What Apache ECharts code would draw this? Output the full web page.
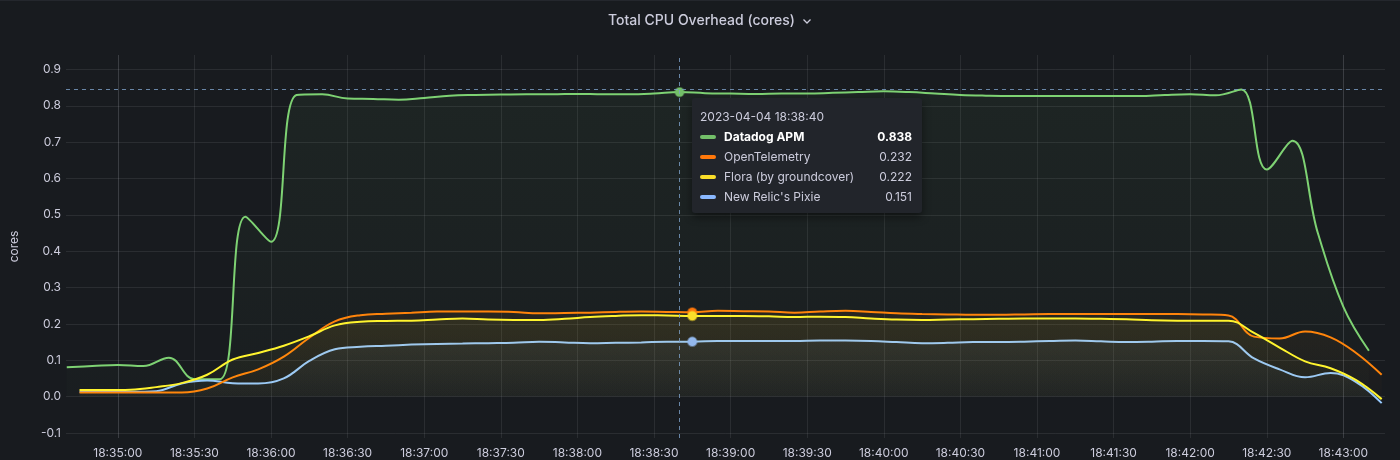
<!DOCTYPE html>
<html>
<head>
<meta charset="utf-8">
<title>Total CPU Overhead (cores)</title>
<script src="https://cdn.jsdelivr.net/npm/echarts@6.0.0/dist/echarts.min.js"></script>
<style>
  html, body { margin: 0; padding: 0; background: #181b1f; }
  #chart { width: 1400px; height: 460px; border-top: 1px solid #24272d; box-sizing: border-box; }
</style>
</head>
<body>
<div id="chart"></div>
<script>
'use strict';

// sampling: Datadog every 10s from 18:34:40, the others every 10s from 18:34:45
var ddStart = '18:34:40';
var otherStart = '18:34:45';
var stepSec = 10;

var datadogApm = [
  0.081, 0.084, 0.087, 0.084, 0.107, 0.048, 0.048, 0.495, 0.426, 0.830,
  0.832, 0.820, 0.819, 0.817, 0.822, 0.828, 0.830, 0.831, 0.832, 0.832,
  0.833, 0.832, 0.832, 0.834, 0.838, 0.835, 0.834, 0.833, 0.834, 0.834,
  0.836, 0.838, 0.840, 0.838, 0.834, 0.830, 0.828, 0.827, 0.827, 0.827,
  0.827, 0.827, 0.827, 0.830, 0.832, 0.829, 0.845, 0.625, 0.704, 0.450,
  0.247, 0.126
];
var openTelemetry = [
  0.011, 0.011, 0.011, 0.011, 0.011, 0.022, 0.053, 0.075, 0.110, 0.162,
  0.207, 0.224, 0.228, 0.231, 0.234, 0.234, 0.234, 0.233, 0.229, 0.230,
  0.231, 0.233, 0.234, 0.233, 0.232, 0.236, 0.235, 0.234, 0.231, 0.234,
  0.236, 0.233, 0.229, 0.227, 0.226, 0.225, 0.225, 0.226, 0.227, 0.227,
  0.227, 0.227, 0.227, 0.227, 0.226, 0.223, 0.165, 0.160, 0.179, 0.163,
  0.120, 0.060
];
var flora = [
  0.018, 0.018, 0.019, 0.026, 0.037, 0.060, 0.102, 0.120, 0.140, 0.166,
  0.196, 0.206, 0.208, 0.209, 0.212, 0.215, 0.212, 0.211, 0.211, 0.214,
  0.219, 0.222, 0.224, 0.223, 0.222, 0.222, 0.222, 0.221, 0.219, 0.220,
  0.219, 0.215, 0.212, 0.211, 0.212, 0.213, 0.214, 0.215, 0.215, 0.215,
  0.214, 0.213, 0.210, 0.209, 0.209, 0.209, 0.175, 0.135, 0.097, 0.078,
  0.045, -0.007
];
var pixie = [
  0.013, 0.013, 0.013, 0.015, 0.036, 0.044, 0.037, 0.036, 0.050, 0.098,
  0.130, 0.137, 0.140, 0.143, 0.145, 0.146, 0.147, 0.148, 0.151, 0.149,
  0.147, 0.148, 0.149, 0.151, 0.151, 0.153, 0.153, 0.153, 0.153, 0.154,
  0.154, 0.153, 0.150, 0.147, 0.148, 0.150, 0.150, 0.151, 0.153, 0.154,
  0.152, 0.150, 0.151, 0.153, 0.153, 0.152, 0.105, 0.075, 0.053, 0.065,
  0.040, -0.018
];

var seriesNames = ['Datadog APM', 'OpenTelemetry', 'Flora (by groundcover)', "New Relic's Pixie"];
var seriesColors = ['#73BF69', '#FF780A', '#FADE2A', '#8AB8FF'];
var seriesZ = [2, 4, 5, 3];
var xTicks = [
  '18:35:00', '18:35:30', '18:36:00', '18:36:30', '18:37:00', '18:37:30',
  '18:38:00', '18:38:30', '18:39:00', '18:39:30', '18:40:00', '18:40:30',
  '18:41:00', '18:41:30', '18:42:00', '18:42:30', '18:43:00'
];
var yTicks = [-0.1, 0, 0.1, 0.2, 0.3, 0.4, 0.5, 0.6, 0.7, 0.8, 0.9];
var hoverTime = '18:38:40';
var hoverValue = 0.847;

var textColor = '#ccccdc';
var gridColor = 'rgba(204, 204, 220, 0.1)';
var pointerColor = 'rgba(125, 160, 200, 0.8)';
var font = 'Inter, "Noto Sans", sans-serif';

function at(hms) {
  var p = hms.split(':').map(Number);
  return new Date(2023, 3, 4, p[0], p[1], p[2]).getTime();
}

function pairs(start, values) {
  var t0 = at(start);
  return values.map(function (v, i) { return [t0 + i * stepSec * 1000, v]; });
}

function hexA(hex, a) {
  var n = parseInt(hex.slice(1), 16);
  return 'rgba(' + (n >> 16) + ',' + ((n >> 8) & 255) + ',' + (n & 255) + ',' + a + ')';
}

var seriesData = [
  pairs(ddStart, datadogApm),
  pairs(otherStart, openTelemetry),
  pairs(otherStart, flora),
  pairs(otherStart, pixie)
];

// nearest sample to t, ties go to the later sample
function nearestIndex(data, t) {
  var best = 0;
  for (var i = 1; i < data.length; i++) {
    if (Math.abs(data[i][0] - t) <= Math.abs(data[best][0] - t)) best = i;
  }
  return best;
}

function lineSeries(i) {
  var c = seriesColors[i];
  return {
    name: seriesNames[i],
    type: 'line',
    data: seriesData[i],
    smooth: 0.4,
    showSymbol: false,
    symbol: 'circle',
    symbolSize: 7,
    color: c,
    lineStyle: { width: 2, color: c },
    itemStyle: { color: c, borderColor: hexA(c, 0.45), borderWidth: 2 },
    emphasis: { scale: 1.25, lineStyle: { width: 2 } },
    areaStyle: {
      color: new echarts.graphic.LinearGradient(0, 0, 0, 1, [
        { offset: 0, color: hexA(c, 0.08) },
        { offset: 1, color: hexA(c, 0.02) }
      ])
    },
    z: seriesZ[i]
  };
}

var chart = echarts.init(document.getElementById('chart'));

var option = {
  backgroundColor: '#181b1f',
  animation: false,
  textStyle: { fontFamily: font },
  title: {
    text: 'Total CPU Overhead (cores)',
    left: 603,
    top: 8,
    textStyle: { color: textColor, fontSize: 14, fontWeight: 500, fontFamily: font }
  },
  graphic: [{
    type: 'polyline',
    left: 801,
    top: 16,
    shape: { points: [[0, 0], [3.5, 3.5], [7, 0]] },
    style: { stroke: textColor, lineWidth: 1.3, fill: null }
  }],
  grid: { left: 63, right: 15, top: 54, bottom: 22 },
  tooltip: {
    trigger: 'axis',
    triggerOn: 'none',
    alwaysShowContent: true,
    transitionDuration: 0,
    position: [692, 97],
    backgroundColor: '#22252b',
    borderWidth: 0,
    borderRadius: 3,
    padding: [9, 10, 6, 8],
    extraCssText: 'box-shadow: 0 4px 8px rgba(0,0,0,0.45);',
    axisPointer: {
      type: 'cross',
      snap: false,
      label: { show: false },
      lineStyle: { color: pointerColor, type: [4, 4], width: 1 },
      crossStyle: { color: pointerColor, type: [4, 4], width: 1 }
    },
    formatter: function () {
      var t = at(hoverTime);
      var head = echarts.time.format(t, '{yyyy}-{MM}-{dd} {HH}:{mm}:{ss}', false);
      var html = '<div style="font-family:' + font.replace(/"/g, "'") + ';font-size:12px;line-height:20px;color:' + textColor + ';width:212px;">' +
        '<div>' + head + '</div>';
      seriesData.forEach(function (data, i) {
        var v = data[nearestIndex(data, t)][1];
        var strong = i === 0;
        var col = strong ? '#ffffff' : textColor;
        var w = strong ? 700 : 400;
        html += '<div style="display:flex;align-items:center;">' +
          '<span style="display:inline-block;width:16px;height:4px;border-radius:2px;margin-right:8px;background:' + seriesColors[i] + ';"></span>' +
          '<span style="flex:1;color:' + col + ';font-weight:' + w + ';">' + seriesNames[i] + '</span>' +
          '<span style="color:' + col + ';font-weight:' + w + ';">' + v.toFixed(3) + '</span>' +
          '</div>';
      });
      return html + '</div>';
    }
  },
  xAxis: {
    type: 'time',
    min: at('18:34:40') - 300,
    max: at('18:43:16') + 300,
    axisLine: { show: false },
    axisTick: { show: false, customValues: xTicks.map(at) },
    axisLabel: {
      customValues: xTicks.map(at),
      formatter: '{HH}:{mm}:{ss}',
      color: textColor,
      fontSize: 12,
      margin: 9,
      hideOverlap: false
    },
    splitLine: { show: true, lineStyle: { color: gridColor, width: 1 } }
  },
  yAxis: {
    type: 'value',
    min: -0.114,
    max: 0.94,
    name: 'cores',
    nameLocation: 'middle',
    nameGap: 46,
    nameTextStyle: { color: textColor, fontSize: 12 },
    axisLine: { show: false },
    axisTick: { show: false, customValues: yTicks },
    axisLabel: {
      customValues: yTicks,
      color: textColor,
      fontSize: 12,
      margin: 5,
      formatter: function (v) { return v.toFixed(1); }
    },
    splitLine: { show: true, lineStyle: { color: gridColor, width: 1 } }
  },
  series: [lineSeries(0), lineSeries(1), lineSeries(2), lineSeries(3)]
};

chart.setOption(option);

function pin() {
  var t = at(hoverTime);
  var px = chart.convertToPixel({ gridIndex: 0 }, [t, hoverValue]);
  chart.dispatchAction({ type: 'showTip', x: px[0], y: px[1] });
  for (var i = 1; i < seriesData.length; i++) {
    chart.dispatchAction({ type: 'highlight', seriesIndex: i, dataIndex: nearestIndex(seriesData[i], t) });
  }
}
pin();
setTimeout(pin, 50);
</script>
</body>
</html>
